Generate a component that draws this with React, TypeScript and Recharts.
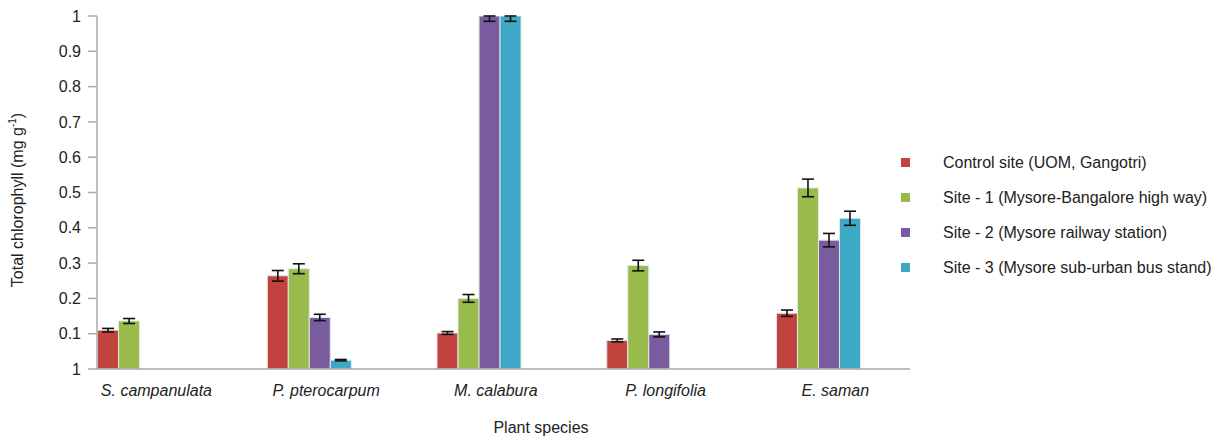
import React from 'react';
import { BarChart, Bar, XAxis, YAxis, ErrorBar, Legend } from 'recharts';

const species = ['S. campanulata', 'P. pterocarpum', 'M. calabura', 'P. longifolia', 'E. saman'];
const controlSite = [0.11, 0.264, 0.102, 0.081, 0.158];
const controlErr = [0.005, 0.015, 0.004, 0.004, 0.009];
const site1 = [0.136, 0.284, 0.2, 0.293, 0.513];
const site1Err = [0.007, 0.014, 0.011, 0.015, 0.025];
const site2 = [null, 0.146, 1.0, 0.098, 0.365];
// bars that reach the top of the axis: only the lower half of the error bar shows
const site2Err = [null, 0.009, [0.015, 0], 0.007, 0.019];
const site3 = [null, 0.025, 1.0, null, 0.427];
const site3Err = [null, 0.002, [0.015, 0], null, 0.02];

const seriesNames = [
  'Control site (UOM, Gangotri)',
  'Site - 1 (Mysore-Bangalore high way)',
  'Site - 2 (Mysore railway station)',
  'Site - 3 (Mysore sub-urban bus stand)',
];
const seriesColors = ['#c1433d', '#98bb4b', '#7a5c9e', '#3da9c6'];

const yTicks = [0, 0.1, 0.2, 0.3, 0.4, 0.5, 0.6, 0.7, 0.8, 0.9, 1];
const yTickLabels = ['1', '0.1', '0.2', '0.3', '0.4', '0.5', '0.6', '0.7', '0.8', '0.9', '1'];
const xTicks = [0, 1, 2, 3, 4];

const data = species.map((name, i) => ({
  idx: i,
  name,
  c: controlSite[i],
  cErr: controlErr[i],
  s1: site1[i],
  s1Err: site1Err[i],
  s2: site2[i],
  s2Err: site2Err[i],
  s3: site3[i],
  s3Err: site3Err[i],
}));

const FONT = '"Liberation Sans", Arial, sans-serif';

const XTick = (props: any) => {
  const { x, y, payload } = props;
  return (
    <text x={x + 17} y={y} dy={19} textAnchor="middle" fontFamily={FONT} fontSize={16} fontStyle="italic" fill="#222">
      {species[payload.value]}
    </text>
  );
};

const renderLegend = () => (
  <div style={{ fontFamily: FONT, fontSize: 16, color: '#222', whiteSpace: 'nowrap' }}>
    {seriesNames.map((n, i) => (
      <div key={n} style={{ display: 'flex', alignItems: 'center', height: 35 }}>
        <span style={{ display: 'inline-block', width: 9, height: 9, background: seriesColors[i], marginLeft: 6, marginRight: 33 }} />
        <span>{n}</span>
      </div>
    ))}
  </div>
);

export default function App() {
  const keys = ['c', 's1', 's2', 's3'];
  return (
    <div style={{ position: 'absolute', left: 0, top: 0, background: '#fff' }}>
      <BarChart
        width={1228}
        height={440}
        data={data}
        margin={{ top: 16, right: 0, bottom: 31, left: 37 }}
        barGap={0}
        barSize={21}
      >
        <XAxis
          dataKey="idx"
          type="number"
          domain={[-0.25, 4.54]}
          ticks={xTicks}
          allowDataOverflow
          tickLine={false}
          axisLine={{ stroke: '#a9a9a9', strokeWidth: 1.5 }}
          tick={<XTick />}
          height={40}
          interval={0}
          label={{
            content: () => (
              <text x={541} y={433} textAnchor="middle" fontFamily={FONT} fontSize={16} fill="#222">
                Plant species
              </text>
            ),
          }}
        />
        <YAxis
          type="number"
          domain={[0, 1]}
          ticks={yTicks}
          allowDataOverflow
          width={60}
          tickSize={9}
          tickLine={{ stroke: '#a9a9a9', strokeWidth: 1.5 }}
          axisLine={{ stroke: '#a9a9a9', strokeWidth: 1.5 }}
          tick={{ fontFamily: FONT, fontSize: 16, fill: '#222' }}
          tickMargin={7}
          tickFormatter={(v: number) => yTickLabels[yTicks.indexOf(v)] ?? String(v)}
          label={{
            content: () => (
              <text transform="rotate(-90, 23, 200)" x={23} y={200} textAnchor="middle" fontFamily={FONT} fontSize={16} fill="#222">
                Total chlorophyll (mg g
                <tspan fontSize={10} dy={-7}>-1</tspan>
                <tspan dy={7}>)</tspan>
              </text>
            ),
          }}
        />
        <Legend
          content={renderLegend}
          layout="vertical"
          verticalAlign="top"
          align="right"
          wrapperStyle={{ left: 895, top: 145, width: 318, right: 'auto' }}
        />
        {keys.map((k, i) => (
          <Bar
            key={k}
            dataKey={k}
            name={seriesNames[i]}
            fill={seriesColors[i]}
            stroke="#e6e6e6"
            strokeWidth={1}
            isAnimationActive={false}
          >
            <ErrorBar dataKey={`${k}Err`} width={6} stroke="#111" strokeWidth={1.6} direction="y" />
          </Bar>
        ))}
      </BarChart>
    </div>
  );
}
